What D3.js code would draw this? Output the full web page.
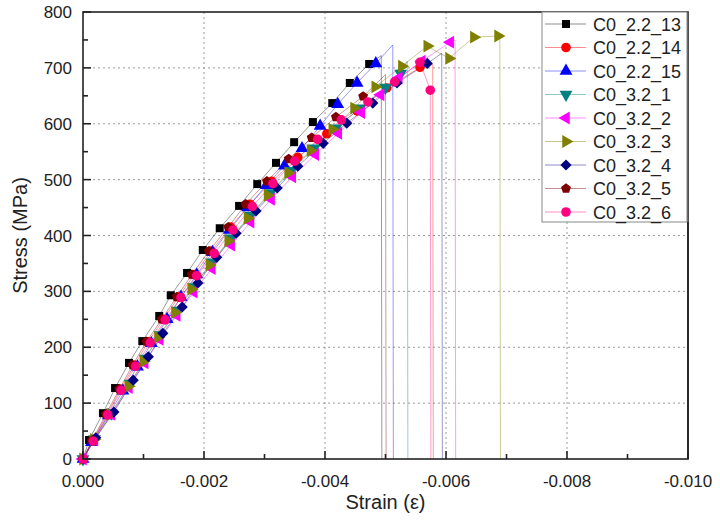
<!DOCTYPE html>
<html><head><meta charset="utf-8">
<script src="https://cdn.jsdelivr.net/npm/d3@7"></script>
<style>body{margin:0;background:#fff}svg{display:block}text{font-family:"Liberation Sans",Arial,sans-serif}</style>
</head><body><svg id="c" width="720" height="527"></svg>
<script>
// strain values given in units of 1e-3 (compressive, plotted as negative), stress in MPa
const seriesNames = ["C0_2.2_13","C0_2.2_14","C0_2.2_15","C0_3.2_1","C0_3.2_2","C0_3.2_3","C0_3.2_4","C0_3.2_5","C0_3.2_6"];
const seriesColors = ["#000000","#ff0000","#0000ff","#008080","#ff00ff","#808000","#000080","#800000","#ff0080"];
const seriesSymbols = ["square","circle","triUp","triDown","triLeft","triRight","diamond","pentagon","circle"];

const strain_2_2_13 = [0,0.10,0.33,0.53,0.76,0.98,1.26,1.45,1.72,1.98,2.26,2.58,2.88,3.19,3.49,3.80,4.12,4.41,4.73, 4.93,4.94];
const stress_2_2_13 = [0,34,82,127,172,211,256,293,333,374,413,453,492,530,567,603,637,673,707, 722,0];
const strain_2_2_14 = [0,0.16,0.40,0.62,0.85,1.08,1.33,1.58,1.84,2.12,2.44,2.76,3.12,3.55,4.03,4.53,5.02,5.57, 5.78,5.79];
const stress_2_2_14 = [0,33,80,125,168,210,250,290,330,372,415,456,497,540,582,623,664,701, 706,0];
const strain_2_2_15 = [0,0.14,0.42,0.66,0.90,1.13,1.39,1.62,1.88,2.14,2.42,2.72,3.03,3.33,3.62,3.92,4.21,4.53,4.84, 5.12,5.13];
const stress_2_2_15 = [0,30,78,122,165,207,250,290,330,370,410,450,490,525,556,596,635,673,708, 741,0];
const strain_3_2_1 = [0,0.19,0.47,0.78,1.03,1.27,1.56,1.83,2.13,2.45,2.77,3.10,3.44,3.82,4.18,4.58,5.00,5.25, 5.36,5.37];
const stress_3_2_1 = [0,36,82,135,180,222,266,308,352,395,436,476,516,556,592,628,665,690, 712,0];
const strain_3_2_2 = [0,0.19,0.47,0.76,1.02,1.27,1.55,1.83,2.13,2.45,2.77,3.11,3.46,3.84,4.22,4.60,4.92,5.22,5.60,6.07, 6.15,6.16];
const stress_3_2_2 = [0,34,80,128,172,214,257,299,341,383,424,465,505,545,583,620,652,682,712,746, 750,0];
const strain_3_2_3 = [0,0.18,0.45,0.75,1.00,1.24,1.52,1.79,2.09,2.40,2.72,3.05,3.39,3.76,4.12,4.48,4.83,5.27,5.69,6.05,6.46,6.86, 6.89,6.90];
const stress_3_2_3 = [0,35,80,130,175,218,262,304,347,390,431,472,512,552,590,628,666,703,739,717,755,757, 757,0];
const strain_3_2_4 = [0,0.21,0.51,0.83,1.08,1.32,1.64,1.90,2.21,2.53,2.86,3.21,3.55,3.97,4.36,4.79,5.19,5.69, 5.93,5.94];
const stress_3_2_4 = [0,38,84,141,183,225,272,315,361,404,444,485,524,565,601,637,673,708, 726,0];
const strain_3_2_5 = [0,0.15,0.38,0.60,0.82,1.05,1.30,1.55,1.80,2.08,2.40,2.69,3.04,3.40,3.78,4.18,4.63, 5.00,5.01];
const stress_3_2_5 = [0,33,80,125,168,210,250,290,330,372,415,456,497,537,575,612,649, 688,0];
const strain_3_2_6 = [0,0.17,0.41,0.63,0.87,1.11,1.36,1.62,1.88,2.17,2.48,2.80,3.14,3.50,3.88,4.27,4.71,5.15,5.57,5.74, 5.75];
const stress_3_2_6 = [0,32,79,123,166,208,249,289,328,368,410,452,493,533,572,607,639,675,710,660, 0];
// number of trailing (unmarked) points: peak before failure and the drop to zero
const tailCounts = [2,2,2,2,2,2,2,2,1];

const strains = [strain_2_2_13,strain_2_2_14,strain_2_2_15,strain_3_2_1,strain_3_2_2,strain_3_2_3,strain_3_2_4,strain_3_2_5,strain_3_2_6];
const stresses = [stress_2_2_13,stress_2_2_14,stress_2_2_15,stress_3_2_1,stress_3_2_2,stress_3_2_3,stress_3_2_4,stress_3_2_5,stress_3_2_6];

const xTickValues = [0,2,4,6,8,10];
const xTickLabels = ["0.000","-0.002","-0.004","-0.006","-0.008","-0.010"];
const xMinorValues = [1,3,5,7,9];
const yTickValues = [0,100,200,300,400,500,600,700,800];
const yMinorValues = [50,150,250,350,450,550,650,750];

const svg = d3.select("#c");
const L = 83, R = 688, T = 12, B = 459;
const x = d3.scaleLinear().domain([0,10]).range([L,R]);
const y = d3.scaleLinear().domain([0,800]).range([B,T]);

// grid
const grid = svg.append("g").attr("stroke","#9a9a9a").attr("stroke-width",1).attr("stroke-dasharray","2,3");
xTickValues.slice(1,-1).forEach(v=>grid.append("line").attr("x1",x(v)).attr("x2",x(v)).attr("y1",T).attr("y2",B));
yTickValues.slice(1,-1).forEach(v=>grid.append("line").attr("x1",L).attr("x2",R).attr("y1",y(v)).attr("y2",y(v)));

// symbol paths
function pentagon(s){ const r=s; let p=[]; for(let i=0;i<5;i++){const a=-Math.PI/2+i*2*Math.PI/5; p.push([r*Math.cos(a),r*Math.sin(a)]);} return "M"+p.map(q=>q.join(",")).join("L")+"Z"; }
function symPath(kind){
  switch(kind){
    case "square": return d3.symbol(d3.symbolSquare,64)();
    case "circle": return d3.symbol(d3.symbolCircle,72)();
    case "diamond": return d3.symbol(d3.symbolDiamond2,80)();
    case "pentagon": return pentagon(5.2);
    default: return d3.symbol(d3.symbolTriangle,72)();
  }
}
function symRot(kind){ return kind==="triDown"?180:kind==="triLeft"?-90:kind==="triRight"?90:0; }

const line = d3.line().x(d=>x(d[0])).y(d=>y(d[1]));
const plot = svg.append("g");
strains.forEach((st,i)=>{
  const pts = st.map((v,j)=>[v,stresses[i][j]]);
  plot.append("path").attr("d",line(pts)).attr("fill","none").attr("stroke",seriesColors[i]).attr("stroke-width",1).attr("stroke-opacity",0.4);
});
strains.forEach((st,i)=>{
  const pts = st.map((v,j)=>[v,stresses[i][j]]).slice(0, st.length-tailCounts[i]);
  const p = symPath(seriesSymbols[i]), r = symRot(seriesSymbols[i]);
  plot.selectAll(null).data(pts).enter().append("path").attr("d",p)
    .attr("transform",d=>`translate(${x(d[0])},${y(d[1])}) rotate(${r})`)
    .attr("fill",seriesColors[i]);
});

// frame
const ax = svg.append("g").attr("stroke","#222").attr("stroke-width",1.6);
ax.append("rect").attr("x",L).attr("y",T).attr("width",R-L).attr("height",B-T).attr("fill","none");
xTickValues.forEach(v=>ax.append("line").attr("x1",x(v)).attr("x2",x(v)).attr("y1",B).attr("y2",B-8));
xMinorValues.forEach(v=>ax.append("line").attr("x1",x(v)).attr("x2",x(v)).attr("y1",B).attr("y2",B-5));
yTickValues.forEach(v=>ax.append("line").attr("x1",L).attr("x2",L+8).attr("y1",y(v)).attr("y2",y(v)));
yMinorValues.forEach(v=>ax.append("line").attr("x1",L).attr("x2",L+5).attr("y1",y(v)).attr("y2",y(v)));

const lab = svg.append("g").attr("fill","#222").attr("font-size",17);
xTickValues.forEach((v,i)=>lab.append("text").attr("x",x(v)).attr("y",487).attr("text-anchor","middle").text(xTickLabels[i]));
yTickValues.forEach(v=>lab.append("text").attr("x",72).attr("y",y(v)+6).attr("text-anchor","end").text(v));
svg.append("text").attr("x",(L+R)/2).attr("y",509).attr("text-anchor","middle").attr("font-size",20).attr("fill","#222").text("Strain (ε)");
svg.append("text").attr("transform",`translate(27,${(T+B)/2}) rotate(-90)`).attr("text-anchor","middle").attr("font-size",20).attr("fill","#222").text("Stress (MPa)");

// legend
const lg = svg.append("g");
lg.append("rect").attr("x",542).attr("y",12).attr("width",145).attr("height",210).attr("fill","#fff").attr("stroke","#888").attr("stroke-width",1);
seriesNames.forEach((n,i)=>{
  const cy = 24 + i*23.5;
  lg.append("line").attr("x1",545).attr("x2",586).attr("y1",cy).attr("y2",cy).attr("stroke",seriesColors[i]).attr("stroke-opacity",0.45);
  lg.append("path").attr("d",symPath(seriesSymbols[i])).attr("transform",`translate(566,${cy}) rotate(${symRot(seriesSymbols[i])})`).attr("fill",seriesColors[i]);
  lg.append("text").attr("x",593).attr("y",cy+6.5).attr("font-size",18).attr("fill","#222").text(n);
});
// right axis line over legend edge
svg.append("line").attr("x1",R).attr("x2",R).attr("y1",222).attr("y2",B).attr("stroke","#222").attr("stroke-width",1.6);
</script></body></html>
